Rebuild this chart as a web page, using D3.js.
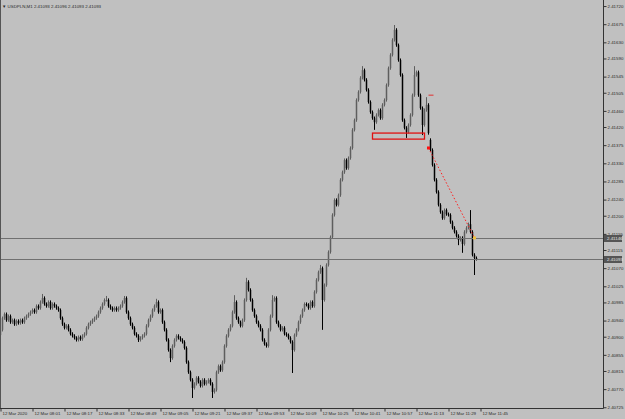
<!DOCTYPE html>
<html><head><meta charset="utf-8">
<script src="https://cdn.jsdelivr.net/npm/d3@7"></script>
<style>html,body{margin:0;padding:0;background:#c0c0c0;} svg{display:block}</style>
</head><body><svg id="c" width="625" height="419"></svg>
<script>
const symbolName = "USDPLN,M1";
const headerPrices = ["2.41093","2.41096","2.41093","2.41093"];

const opens = [
2.40904,2.40917,2.40946,2.40956,2.40941,2.40951,2.40936,2.40941,2.40931,2.40939,
2.40934,2.40941,2.40936,2.40946,2.40951,2.40956,2.40961,2.40966,2.40961,2.40976,
2.40971,2.40986,2.40996,2.40981,2.40976,2.40986,2.40971,2.40981,2.40976,2.40971,
2.40966,2.40946,2.40931,2.40922,2.40927,2.40917,2.40907,2.40902,2.40897,2.40892,
2.40899,2.40894,2.40902,2.40907,2.40922,2.40931,2.40936,2.40941,2.40946,2.40951,
2.40961,2.40971,2.40981,2.40991,2.40991,2.40976,2.40971,2.40966,2.40971,2.40966,
2.40971,2.40976,2.40986,2.40996,2.40961,2.40946,2.40931,2.40922,2.40907,2.40902,
2.40892,2.40897,2.40902,2.40907,2.40927,2.40941,2.40951,2.40966,2.40976,2.40986,
2.40961,2.40966,2.40936,2.40917,2.40892,2.40867,2.40847,2.40877,2.40892,2.40902,
2.40897,2.40892,2.40887,2.40872,2.40837,2.40812,2.40793,2.40773,2.40783,2.40798,
2.40788,2.40778,2.40793,2.40783,2.40788,2.40793,2.40783,2.40763,2.40768,2.40812,
2.40827,2.40817,2.40837,2.40877,2.40902,2.40917,2.40927,2.40961,2.40986,2.40946,
2.40936,2.40927,2.40941,2.40991,2.41036,2.41016,2.40991,2.40966,2.40951,2.40936,
2.40927,2.40917,2.40892,2.40882,2.40877,2.40917,2.40951,2.40991,2.40996,2.40936,
2.40927,2.40917,2.40922,2.40907,2.40904,2.40897,2.40887,2.40867,2.40904,2.40917,
2.40936,2.40951,2.40966,2.40981,2.40979,2.40971,2.40986,2.40976,2.41011,2.41041,
2.41060,2.41070,2.40991,2.41028,2.41078,2.41110,2.41147,2.41202,2.41239,2.41227,
2.41251,2.41289,2.41308,2.41338,2.41318,2.41343,2.41368,2.41413,2.41437,2.41487,
2.41507,2.41542,2.41561,2.41537,2.41512,2.41482,2.41457,2.41442,2.41432,2.41450,
2.41462,2.41442,2.41475,2.41487,2.41524,2.41566,2.41599,2.41636,2.41661,2.41623,
2.41586,2.41549,2.41437,2.41418,2.41408,2.41425,2.41450,2.41499,2.41549,2.41556,
2.41499,2.41467,2.41425,2.41462,2.41475,2.41388,2.41363,2.41326,2.41289,2.41259,
2.41227,2.41209,2.41194,2.41214,2.41204,2.41202,2.41184,2.41170,2.41160,2.41150,
2.41140,2.41145,2.41130,2.41160,2.41170,2.41179,2.41160,2.41103,2.41095];

const highs = [
2.40921,2.40950,2.40960,2.40960,2.40955,2.40955,2.40945,2.40945,2.40943,2.40943,
2.40945,2.40945,2.40950,2.40955,2.40960,2.40965,2.40970,2.40970,2.40980,2.40980,
2.40990,2.41006,2.41000,2.40985,2.40990,2.40990,2.40985,2.40985,2.40980,2.40975,
2.40970,2.40950,2.40935,2.40931,2.40931,2.40921,2.40911,2.40906,2.40901,2.40903,
2.40903,2.40906,2.40911,2.40926,2.40935,2.40940,2.40945,2.40950,2.40955,2.40965,
2.40975,2.40985,2.40995,2.41001,2.40995,2.40980,2.40975,2.40975,2.40975,2.40975,
2.40980,2.40990,2.41001,2.41000,2.40965,2.40950,2.40935,2.40926,2.40911,2.40906,
2.40901,2.40906,2.40911,2.40931,2.40945,2.40955,2.40970,2.40980,2.40994,2.40990,
2.40970,2.40970,2.40940,2.40921,2.40896,2.40871,2.40881,2.40896,2.40906,2.40906,
2.40901,2.40896,2.40891,2.40876,2.40841,2.40816,2.40797,2.40787,2.40802,2.40802,
2.40792,2.40797,2.40797,2.40792,2.40797,2.40797,2.40787,2.40772,2.40816,2.40831,
2.40831,2.40841,2.40881,2.40906,2.40921,2.40931,2.40965,2.41003,2.40990,2.40950,
2.40940,2.40945,2.40995,2.41046,2.41040,2.41020,2.40995,2.40970,2.40955,2.40940,
2.40931,2.40921,2.40896,2.40886,2.40921,2.40955,2.41003,2.41000,2.41000,2.40940,
2.40931,2.40926,2.40926,2.40911,2.40908,2.40901,2.40891,2.40908,2.40921,2.40940,
2.40955,2.40970,2.40985,2.40985,2.40983,2.40990,2.40990,2.41015,2.41045,2.41064,
2.41078,2.41074,2.41032,2.41082,2.41114,2.41151,2.41206,2.41243,2.41243,2.41255,
2.41293,2.41312,2.41342,2.41342,2.41347,2.41372,2.41417,2.41441,2.41491,2.41511,
2.41546,2.41571,2.41565,2.41541,2.41516,2.41486,2.41461,2.41446,2.41454,2.41466,
2.41466,2.41479,2.41491,2.41528,2.41570,2.41603,2.41640,2.41673,2.41665,2.41627,
2.41590,2.41553,2.41441,2.41422,2.41429,2.41454,2.41503,2.41571,2.41560,2.41560,
2.41503,2.41471,2.41466,2.41494,2.41479,2.41392,2.41367,2.41330,2.41293,2.41263,
2.41231,2.41213,2.41218,2.41218,2.41208,2.41206,2.41188,2.41174,2.41164,2.41154,
2.41149,2.41149,2.41164,2.41174,2.41183,2.41214,2.41164,2.41107,2.41099];

const lows = [
2.40897,2.40913,2.40942,2.40937,2.40937,2.40932,2.40932,2.40927,2.40927,2.40930,
2.40930,2.40932,2.40932,2.40942,2.40947,2.40952,2.40957,2.40957,2.40957,2.40967,
2.40967,2.40982,2.40977,2.40972,2.40972,2.40967,2.40967,2.40972,2.40967,2.40962,
2.40942,2.40927,2.40918,2.40918,2.40913,2.40903,2.40898,2.40893,2.40888,2.40888,
2.40890,2.40890,2.40898,2.40903,2.40918,2.40927,2.40932,2.40937,2.40942,2.40947,
2.40957,2.40967,2.40977,2.40987,2.40972,2.40967,2.40962,2.40962,2.40962,2.40962,
2.40967,2.40972,2.40982,2.40957,2.40942,2.40927,2.40918,2.40903,2.40898,2.40887,
2.40888,2.40893,2.40898,2.40903,2.40923,2.40937,2.40947,2.40962,2.40972,2.40957,
2.40957,2.40932,2.40913,2.40888,2.40863,2.40837,2.40843,2.40873,2.40888,2.40893,
2.40888,2.40883,2.40868,2.40833,2.40808,2.40789,2.40748,2.40769,2.40779,2.40784,
2.40774,2.40774,2.40779,2.40779,2.40784,2.40779,2.40748,2.40759,2.40764,2.40808,
2.40813,2.40813,2.40833,2.40873,2.40898,2.40913,2.40923,2.40957,2.40942,2.40932,
2.40923,2.40923,2.40937,2.40987,2.41012,2.40987,2.40962,2.40947,2.40932,2.40923,
2.40913,2.40888,2.40878,2.40873,2.40873,2.40913,2.40947,2.40987,2.40932,2.40923,
2.40913,2.40913,2.40903,2.40900,2.40893,2.40883,2.40810,2.40863,2.40900,2.40913,
2.40932,2.40947,2.40962,2.40975,2.40967,2.40967,2.40972,2.40972,2.41007,2.41037,
2.41056,2.40917,2.40987,2.41024,2.41074,2.41106,2.41143,2.41198,2.41223,2.41223,
2.41247,2.41285,2.41304,2.41314,2.41314,2.41339,2.41364,2.41409,2.41433,2.41483,
2.41503,2.41538,2.41533,2.41508,2.41478,2.41453,2.41438,2.41413,2.41428,2.41446,
2.41438,2.41438,2.41471,2.41483,2.41520,2.41562,2.41595,2.41632,2.41619,2.41582,
2.41545,2.41433,2.41414,2.41393,2.41404,2.41421,2.41446,2.41495,2.41545,2.41495,
2.41463,2.41400,2.41421,2.41458,2.41401,2.41359,2.41322,2.41285,2.41255,2.41223,
2.41205,2.41190,2.41190,2.41200,2.41198,2.41180,2.41166,2.41156,2.41146,2.41127,
2.41136,2.41108,2.41126,2.41156,2.41166,2.41156,2.41099,2.41053,2.41089];

const closes = [
2.40917,2.40946,2.40956,2.40941,2.40951,2.40936,2.40941,2.40931,2.40939,2.40934,
2.40941,2.40936,2.40946,2.40951,2.40956,2.40961,2.40966,2.40961,2.40976,2.40971,
2.40986,2.40996,2.40981,2.40976,2.40986,2.40971,2.40981,2.40976,2.40971,2.40966,
2.40946,2.40931,2.40922,2.40927,2.40917,2.40907,2.40902,2.40897,2.40892,2.40899,
2.40894,2.40902,2.40907,2.40922,2.40931,2.40936,2.40941,2.40946,2.40951,2.40961,
2.40971,2.40981,2.40991,2.40991,2.40976,2.40971,2.40966,2.40971,2.40966,2.40971,
2.40976,2.40986,2.40996,2.40961,2.40946,2.40931,2.40922,2.40907,2.40902,2.40892,
2.40897,2.40902,2.40907,2.40927,2.40941,2.40951,2.40966,2.40976,2.40986,2.40961,
2.40966,2.40936,2.40917,2.40892,2.40867,2.40847,2.40877,2.40892,2.40902,2.40897,
2.40892,2.40887,2.40872,2.40837,2.40812,2.40793,2.40773,2.40783,2.40798,2.40788,
2.40778,2.40793,2.40783,2.40788,2.40793,2.40783,2.40763,2.40768,2.40812,2.40827,
2.40817,2.40837,2.40877,2.40902,2.40917,2.40927,2.40961,2.40986,2.40946,2.40936,
2.40927,2.40941,2.40991,2.41036,2.41016,2.40991,2.40966,2.40951,2.40936,2.40927,
2.40917,2.40892,2.40882,2.40877,2.40917,2.40951,2.40991,2.40996,2.40936,2.40927,
2.40917,2.40922,2.40907,2.40904,2.40897,2.40887,2.40867,2.40904,2.40917,2.40936,
2.40951,2.40966,2.40981,2.40979,2.40971,2.40986,2.40976,2.41011,2.41041,2.41060,
2.41070,2.40991,2.41028,2.41078,2.41110,2.41147,2.41202,2.41239,2.41227,2.41251,
2.41289,2.41308,2.41338,2.41318,2.41343,2.41368,2.41413,2.41437,2.41487,2.41507,
2.41542,2.41561,2.41537,2.41512,2.41482,2.41457,2.41442,2.41432,2.41450,2.41462,
2.41442,2.41475,2.41487,2.41524,2.41566,2.41599,2.41636,2.41661,2.41623,2.41586,
2.41549,2.41437,2.41418,2.41408,2.41425,2.41450,2.41499,2.41549,2.41556,2.41499,
2.41467,2.41425,2.41462,2.41475,2.41405,2.41363,2.41326,2.41289,2.41259,2.41227,
2.41209,2.41194,2.41214,2.41204,2.41202,2.41184,2.41170,2.41160,2.41150,2.41140,
2.41145,2.41130,2.41160,2.41170,2.41179,2.41160,2.41103,2.41095,2.41093];

const timeTickBars = [0,16,32,48,64,80,96,112,128,144,160,176,192,208,224,240];
const timeTickLabels = ["12 Mar 2020","12 Mar 08:01","12 Mar 08:17","12 Mar 08:33","12 Mar 08:49",
  "12 Mar 09:05","12 Mar 09:21","12 Mar 09:37","12 Mar 09:53","12 Mar 10:09","12 Mar 10:25",
  "12 Mar 10:41","12 Mar 10:57","12 Mar 11:13","12 Mar 11:29","12 Mar 11:45"];
const priceTicks = [2.41720,2.41675,2.41630,2.41590,2.41545,2.41505,2.41460,2.41420,2.41375,2.41330,
  2.41285,2.41240,2.41200,2.41155,2.41115,2.41070,2.41025,2.40985,2.40940,2.40900,2.40855,
  2.40815,2.40770,2.40725];
const levelLines = [2.41146, 2.41093];
const zoneBars = [186, 212];
const zonePrices = [2.41405, 2.41390];
const trendBars = [214, 237];
const trendPrices = [2.41368, 2.41145];
const dashBars = [214, 216];
const dashPrice = 2.41499;

const plotR = 603, plotB = 408;
const svg = d3.select("#c");
const x = d3.scaleLinear().domain([-0.25, 301.25]).range([0, plotR]);
const y = d3.scaleLinear().domain([2.407232, 2.41735]).range([plotB, 0]);

const n = closes.length;
const idx = d3.range(n);
const g = svg.append("g");
const bullCol = "#5e5e5e", bearCol = "#000000";

g.selectAll("line.wick").data(idx).enter().append("line")
  .attr("x1", i => x(i)).attr("x2", i => x(i))
  .attr("y1", i => y(highs[i])).attr("y2", i => y(lows[i]))
  .attr("stroke", i => closes[i] >= opens[i] ? bullCol : bearCol)
  .attr("stroke-width", 1);
g.selectAll("rect.body").data(idx).enter().append("rect")
  .attr("x", i => x(i) - 0.75).attr("width", 1.5)
  .attr("y", i => y(Math.max(opens[i], closes[i])))
  .attr("height", i => Math.max(1, Math.abs(y(opens[i]) - y(closes[i]))))
  .attr("fill", i => closes[i] >= opens[i] ? bullCol : bearCol);

// level lines
svg.selectAll("line.level").data(levelLines).enter().append("line")
  .attr("x1", 0).attr("x2", plotR)
  .attr("y1", d => Math.round(y(d)) + 0.5).attr("y2", d => Math.round(y(d)) + 0.5)
  .attr("stroke", "#707070").attr("stroke-width", 1);

// red zone
svg.append("rect")
  .attr("x", x(zoneBars[0])).attr("width", x(zoneBars[1]) - x(zoneBars[0]))
  .attr("y", y(zonePrices[0])).attr("height", y(zonePrices[1]) - y(zonePrices[0]))
  .attr("fill", "none").attr("stroke", "#e01010").attr("stroke-width", 1.3);

// trend dotted
svg.append("line")
  .attr("x1", x(trendBars[0])).attr("y1", y(trendPrices[0]))
  .attr("x2", x(trendBars[1])).attr("y2", y(trendPrices[1]))
  .attr("stroke", "#ff2020").attr("stroke-width", 1).attr("stroke-dasharray", "1.5,2");
svg.append("rect").attr("x", x(trendBars[0]) - 1.5).attr("y", y(trendPrices[0]) - 1.5)
  .attr("width", 3).attr("height", 3).attr("fill", "#ff1010");
svg.append("rect").attr("x", x(trendBars[1]) - 1.5).attr("y", y(trendPrices[1]) - 1.5)
  .attr("width", 3).attr("height", 3).attr("fill", "#f0c040");
svg.append("line")
  .attr("x1", x(dashBars[0])).attr("x2", x(dashBars[1]) + 1)
  .attr("y1", y(dashPrice)).attr("y2", y(dashPrice))
  .attr("stroke", "#e03030").attr("stroke-width", 1);

// axes
const fontFam = "'Liberation Sans', Arial, sans-serif";
const fs = 4.4;
const ay = svg.append("g").attr("transform", `translate(${plotR + 0.5},0)`)
  .call(d3.axisRight(y).tickValues(priceTicks).tickSize(3).tickSizeOuter(0).tickFormat(d3.format(".5f")));
ay.select(".domain").attr("stroke", "#333").attr("d", `M0,0V${plotB + 0.5}`);
ay.selectAll(".tick line").attr("stroke", "#333");
ay.selectAll(".tick text").attr("x", 4).attr("dy", "0.3em").attr("font-size", fs)
  .attr("font-family", fontFam).attr("fill", "#2a2a2a");

const ax = svg.append("g").attr("transform", `translate(0,${plotB + 0.5})`)
  .call(d3.axisBottom(x).tickValues(timeTickBars).tickSize(3).tickSizeOuter(0)
    .tickFormat((d, i) => timeTickLabels[i]));
ax.select(".domain").attr("stroke", "#333").attr("d", `M0,0H${plotR + 0.5}`);
ax.selectAll(".tick line").attr("stroke", "#333");
ax.selectAll(".tick text").attr("text-anchor", "start").attr("x", 1.5).attr("y", 3).attr("dy", "0.71em")
  .attr("font-size", fs).attr("font-family", fontFam).attr("fill", "#2a2a2a");

// left border
svg.append("line").attr("x1", 0.5).attr("x2", 0.5).attr("y1", 0).attr("y2", plotB)
  .attr("stroke", "#555").attr("stroke-width", 1);

// level price boxes
const boxes = svg.selectAll("g.pbox").data(levelLines).enter().append("g")
  .attr("transform", d => `translate(${plotR + 1},${Math.round(y(d))})`);
boxes.append("rect").attr("x", 0).attr("y", -3).attr("width", 18).attr("height", 7).attr("fill", "#555");
boxes.append("text").attr("x", 3).attr("y", 0.5).attr("dy", "0.35em").attr("font-size", fs)
  .attr("font-family", fontFam).attr("fill", "#e8e8e8").text(d => d3.format(".5f")(d));

// header
svg.append("text").attr("x", 2).attr("y", 7.5).attr("font-size", fs).attr("font-family", fontFam)
  .attr("fill", "#2a2a2a").text("▼ " + symbolName + "  " + headerPrices.join(" "));
</script></body></html>
